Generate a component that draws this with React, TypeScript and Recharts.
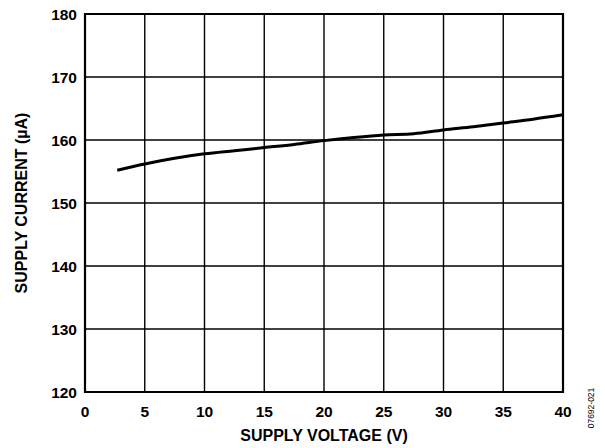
import React from 'react';
import {
    LineChart,
    Line,
    XAxis,
    YAxis,
    CartesianGrid,
    ReferenceArea,
    Label,
} from 'recharts';

// supply voltage (V)
const voltage = [2.7, 5, 7.5, 10, 12.5, 15, 17.5, 20, 22.5, 25, 27.5, 30, 32.5, 35, 37.5, 40];
// supply current (µA)
const current = [155.2, 156.2, 157.1, 157.8, 158.3, 158.8, 159.3, 159.9, 160.4, 160.8, 161.0, 161.6, 162.1, 162.7, 163.3, 164.0];

const xTicks = [0, 5, 10, 15, 20, 25, 30, 35, 40];
const yTicks = [120, 130, 140, 150, 160, 170, 180];

const data = voltage.map((v, i) => ({ v, i: current[i] }));

const FONT = '"Liberation Sans", Arial, sans-serif';
const tickStyle = { fontFamily: FONT, fontSize: 15.5, fontWeight: 700, fill: '#000' };
const titleStyle = { fontFamily: FONT, fontSize: 16, fontWeight: 700, fill: '#000' };

export default function App() {
    return (
        <div style={{ position: 'absolute', left: 0, top: 0, width: 605, height: 448, background: '#fff' }}>
            <LineChart
                width={605}
                height={448}
                data={data}
                margin={{ top: 14, right: 42, bottom: 14, left: 0 }}
            >
                <CartesianGrid stroke="#000" strokeWidth={1.4} />
                <XAxis
                    dataKey="v"
                    type="number"
                    domain={[0, 40]}
                    ticks={xTicks}
                    tickLine={false}
                    axisLine={false}
                    tickMargin={8}
                    tick={tickStyle}
                    height={42}
                >
                    <Label value="SUPPLY VOLTAGE (V)" position="bottom" offset={-4} style={titleStyle} />
                </XAxis>
                <YAxis
                    type="number"
                    domain={[120, 180]}
                    ticks={yTicks}
                    tickLine={false}
                    axisLine={false}
                    tick={tickStyle}
                    width={85}
                >
                    <Label
                        value="SUPPLY CURRENT (µA)"
                        angle={-90}
                        position="insideLeft"
                        offset={21}
                        style={{ ...titleStyle, textAnchor: 'middle' }}
                    />
                </YAxis>
                <ReferenceArea x1={0} x2={40} y1={120} y2={180} fill="none" stroke="#000" strokeWidth={2.2} />
                <Line
                    dataKey="i"
                    type="monotone"
                    stroke="#000"
                    strokeWidth={3}
                    dot={false}
                    isAnimationActive={false}
                />
            </LineChart>
            <div
                style={{
                    position: 'absolute',
                    left: 591,
                    top: 408,
                    transform: 'translate(-50%, -50%) rotate(-90deg)',
                    fontFamily: FONT,
                    fontSize: 8.5,
                    color: '#000',
                    whiteSpace: 'nowrap',
                }}
            >
                07692-021
            </div>
        </div>
    );
}
